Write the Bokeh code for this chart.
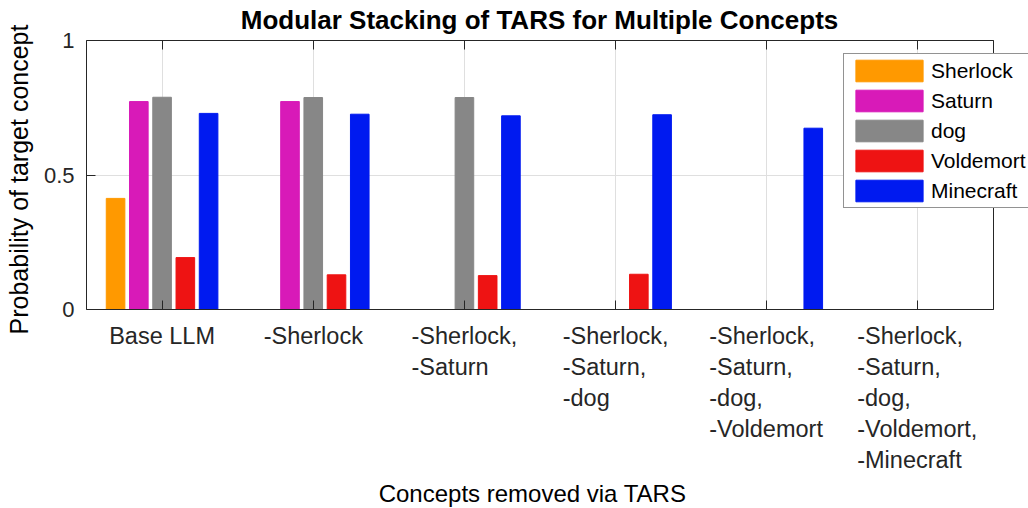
import math
from bokeh.plotting import figure
from bokeh.models import (ColumnDataSource, FixedTicker, LinearAxis, Range1d,
                          Legend, Label)
from bokeh.core.properties import value
from bokeh.embed import file_html
from bokeh.resources import INLINE

# ---------------- data ----------------
categories = ["Base LLM",
              "-Sherlock",
              "-Sherlock,\n-Saturn",
              "-Sherlock,\n-Saturn,\n-dog",
              "-Sherlock,\n-Saturn,\n-dog,\n-Voldemort",
              "-Sherlock,\n-Saturn,\n-dog,\n-Voldemort,\n-Minecraft"]
series_names = ["Sherlock", "Saturn", "dog", "Voldemort", "Minecraft"]
sherlock = [0.413, 0.0, 0.0, 0.0, 0.0, 0.0]
saturn = [0.773, 0.773, 0.0, 0.0, 0.0, 0.0]
dog = [0.789, 0.788, 0.788, 0.0, 0.0, 0.0]
voldemort = [0.193, 0.129, 0.126, 0.131, 0.0, 0.0]
minecraft = [0.729, 0.726, 0.720, 0.724, 0.674, 0.0]
series_values = [sherlock, saturn, dog, voldemort, minecraft]
colors = ["#FF9900", "#D81AB8", "#878787", "#EE1313", "#001AF0"]
y_ticks = [0, 0.5, 1]
y_tick_labels = ["0", "0.5", "1"]

title_text = "Modular Stacking of TARS for Multiple Concepts"
xlabel_text = "Concepts removed via TARS"
ylabel_text = "Probability of target concept"

# ---------------- layout ----------------
W, H = 1028, 508
# pixel box of the axes (the frame covers the whole canvas; axes sit at fixed locations)
AX_L, AX_R, AX_T, AX_B = 86, 993, 40, 309
FONT = "Liberation Sans"
TXT = "#262626"
n_groups = len(categories)
groups = list(range(1, n_groups + 1))
xd0, xd1 = 0.5, n_groups + 0.5
yd0, yd1 = 0.0, 1.0
sx = (AX_R - AX_L) / (xd1 - xd0)
sy = (AX_B - AX_T) / (yd1 - yd0)

def xpx(px):
    return xd0 + (px - AX_L) / sx

def ypx(py):
    return yd0 + (AX_B - py) / sy

p = figure(width=W, height=H, output_backend="svg", toolbar_location=None,
           x_range=Range1d(xpx(0), xpx(W)), y_range=Range1d(ypx(H), ypx(0)),
           min_border=0, background_fill_color="white", border_fill_color="white")
p.outline_line_color = None
p.title.visible = False

# grouped bars (MATLAB-style grouping)
n_series = len(series_names)
group_w = min(0.8, n_series / (n_series + 1.5))
slot = group_w / n_series
bar_w = 0.8 * slot
renderers = []
for k, (name, vals, col) in enumerate(zip(series_names, series_values, colors)):
    off = (k - (n_series - 1) / 2) * slot
    src = ColumnDataSource(dict(
        x=[g + off for g in groups],
        top=vals,
        edge=[col if v > 0 else "#1a1a1a" for v in vals],
    ))
    r = p.vbar(x="x", top="top", bottom=0, width=bar_w, source=src,
               fill_color=col, line_color="edge", line_width=1)
    renderers.append((name, r))

# axes, fixed at the box edges
xa = p.xaxis[0]
ya = p.yaxis[0]
xa.ticker = FixedTicker(ticks=groups)
xa.fixed_location = yd0
xa.bounds = (xd0, xd1)
xa.major_label_text_color = None

ya.ticker = FixedTicker(ticks=y_ticks)
ya.fixed_location = xd0
ya.bounds = (yd0, yd1)
ya.major_label_overrides = {t: l for t, l in zip(y_ticks, y_tick_labels)}
ya.major_label_text_font = FONT
ya.major_label_text_font_size = "22px"
ya.major_label_text_color = TXT
ya.major_label_standoff = 12

top_ax = LinearAxis(ticker=FixedTicker(ticks=groups), fixed_location=yd1,
                    bounds=(xd0, xd1), major_label_text_color=None)
right_ax = LinearAxis(ticker=FixedTicker(ticks=y_ticks), fixed_location=xd1,
                      bounds=(yd0, yd1), major_label_text_color=None)
p.add_layout(top_ax, "above")
p.add_layout(right_ax, "right")
for ax in [xa, ya, top_ax, right_ax]:
    ax.major_tick_in = 9
    ax.major_tick_out = 0
    ax.minor_tick_in = 0
    ax.minor_tick_out = 0
    ax.axis_line_color = TXT
    ax.axis_line_width = 1
    ax.major_tick_line_color = TXT
    ax.major_tick_line_width = 1

# grid, limited to the axes box
p.xgrid.ticker = FixedTicker(ticks=groups)
p.ygrid.ticker = FixedTicker(ticks=y_ticks)
for g in [p.xgrid, p.ygrid]:
    g.grid_line_color = "#DFDFDF"
    g.grid_line_width = 1
    g.level = "underlay"
p.xgrid.bounds = (xd0, xd1)
p.ygrid.bounds = (yd0, yd1)
try:
    p.xgrid.cross_bounds = (yd0, yd1)
    p.ygrid.cross_bounds = (xd0, xd1)
except AttributeError:
    for g in [p.xgrid, p.ygrid]:
        g.visible = False
    p.segment(x0=groups, y0=[yd0] * n_groups, x1=groups, y1=[yd1] * n_groups,
              line_color="#DFDFDF", line_width=1, level="underlay")
    p.segment(x0=[xd0] * len(y_ticks), y0=y_ticks, x1=[xd1] * len(y_ticks), y1=y_ticks,
              line_color="#DFDFDF", line_width=1, level="underlay")

# x tick labels: block centred under the tick, lines left-aligned (MATLAB style)
cw = {' ': 278, ',': 278, '-': 333, 'B': 667, 'L': 556, 'M': 833, 'S': 667,
      'V': 667, 'a': 556, 'c': 500, 'd': 556, 'e': 556, 'f': 278, 'g': 556,
      'h': 556, 'i': 222, 'k': 500, 'l': 222, 'm': 833, 'n': 556, 'o': 556,
      'r': 333, 's': 500, 't': 278, 'u': 556}
XT_FS = 23.5

def text_w(s, fs):
    return sum(cw.get(c, 556) for c in s) / 1000.0 * fs

lab_src = ColumnDataSource(dict(
    x=groups,
    y=[ypx(322)] * n_groups,
    text=categories,
    xoff=[-max(text_w(l, XT_FS) for l in lab.split("\n")) / 2 for lab in categories],
))
p.text(x="x", y="y", text="text", x_offset="xoff", source=lab_src,
       text_align="left", text_baseline="top", text_font=value(FONT),
       text_font_size=f"{XT_FS}px", text_color=TXT, text_line_height=1.2)

# title and axis labels
p.add_layout(Label(x=xpx(539), y=ypx(19), text=title_text,
                   text_align="center", text_baseline="middle",
                   text_font=FONT, text_font_size="26px", text_font_style="bold",
                   text_color="black"))
p.add_layout(Label(x=xpx(532), y=ypx(493), text=xlabel_text,
                   text_align="center", text_baseline="middle",
                   text_font=FONT, text_font_size="24px", text_color="black"))
p.add_layout(Label(x=xpx(18), y=ypx(179), text=ylabel_text, angle=math.pi / 2,
                   text_align="center", text_baseline="middle",
                   text_font=FONT, text_font_size="25px", text_color="black"))

# legend
LEG_L, LEG_T, LEG_H = 843, 55, 153
legend = Legend(items=[(n, [r]) for n, r in renderers],
                location=(LEG_L, H - (LEG_T + LEG_H)))
legend.border_line_color = TXT
legend.border_line_width = 1
legend.background_fill_color = "white"
legend.background_fill_alpha = 1
legend.glyph_width = 84
legend.glyph_height = 27
legend.label_height = 27
legend.label_standoff = -3
legend.spacing = 3
legend.padding = 3
legend.margin = 0
legend.label_text_font = FONT
legend.label_text_font_size = "21px"
legend.label_text_color = "black"
p.add_layout(legend, "center")

open("out.html", "w").write(file_html(p, INLINE))
